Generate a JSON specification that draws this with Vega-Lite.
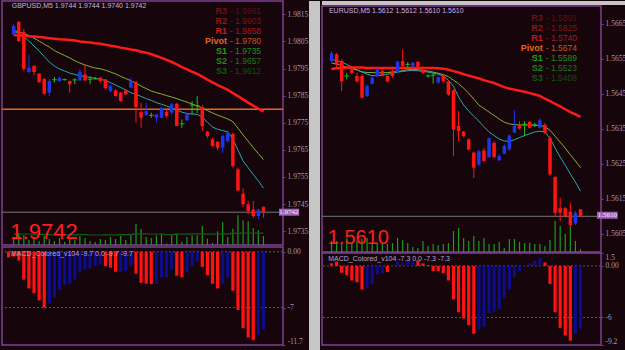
{
"$schema": "https://vega.github.io/schema/vega-lite/v6.json",
"padding": {"left": 0, "top": 0, "right": 0, "bottom": 0},
"background": "#16050b",
"config": {
 "view": {"stroke": "#7e3f95", "strokeWidth": 1.5},
 "axis": {"labelColor": "#a898bc", "labelFont": "Liberation Sans Narrow", "labelFontSize": 7.5, "tickColor": "#7e3f95", "tickSize": 2, "labelPadding": 2, "domain": false, "grid": false},
 "text": {"font": "Liberation Sans"},
 "concat": {"spacing": 0}
},
"datasets": {
 "gbp": [
  {"i":0,"o":1.98076,"h":1.98114,"l":1.98074,"c":1.98107,"m1":1.98074,"m2":1.98090,"m3":1.98086,"v":80,"va":108},
  {"i":1,"o":1.98122,"h":1.98125,"l":1.98048,"c":1.98051,"m1":1.98072,"m2":1.98085,"m3":1.98081,"v":120,"va":108},
  {"i":2,"o":1.98085,"h":1.98096,"l":1.97941,"c":1.97948,"m1":1.98071,"m2":1.98079,"m3":1.98068,"v":100,"va":110},
  {"i":3,"o":1.97937,"h":1.98000,"l":1.97933,"c":1.97953,"m1":1.98069,"m2":1.98072,"m3":1.98051,"v":50,"va":110},
  {"i":4,"o":1.97959,"h":1.97963,"l":1.97926,"c":1.97937,"m1":1.98068,"m2":1.98062,"m3":1.98033,"v":80,"va":106},
  {"i":5,"o":1.97931,"h":1.97933,"l":1.97896,"c":1.97900,"m1":1.98066,"m2":1.98051,"m3":1.98015,"v":40,"va":106},
  {"i":6,"o":1.97911,"h":1.97915,"l":1.97854,"c":1.97857,"m1":1.98064,"m2":1.98040,"m3":1.97994,"v":90,"va":106},
  {"i":7,"o":1.97861,"h":1.97911,"l":1.97848,"c":1.97904,"m1":1.98062,"m2":1.98029,"m3":1.97974,"v":60,"va":104},
  {"i":8,"o":1.97909,"h":1.97919,"l":1.97898,"c":1.97909,"m1":1.98060,"m2":1.98016,"m3":1.97959,"v":40,"va":104},
  {"i":9,"o":1.97904,"h":1.97919,"l":1.97900,"c":1.97916,"m1":1.98058,"m2":1.98007,"m3":1.97948,"v":70,"va":104},
  {"i":10,"o":1.97909,"h":1.97913,"l":1.97906,"c":1.97909,"m1":1.98057,"m2":1.97998,"m3":1.97941,"v":30,"va":102},
  {"i":11,"o":1.97904,"h":1.97906,"l":1.97861,"c":1.97892,"m1":1.98055,"m2":1.97989,"m3":1.97933,"v":60,"va":102},
  {"i":12,"o":1.97908,"h":1.97914,"l":1.97892,"c":1.97908,"m1":1.98053,"m2":1.97979,"m3":1.97928,"v":50,"va":102},
  {"i":13,"o":1.97906,"h":1.97947,"l":1.97904,"c":1.97938,"m1":1.98050,"m2":1.97970,"m3":1.97924,"v":90,"va":104},
  {"i":14,"o":1.97928,"h":1.97967,"l":1.97904,"c":1.97906,"m1":1.98048,"m2":1.97963,"m3":1.97920,"v":70,"va":104},
  {"i":15,"o":1.97910,"h":1.97922,"l":1.97892,"c":1.97910,"m1":1.98046,"m2":1.97957,"m3":1.97917,"v":40,"va":100},
  {"i":16,"o":1.97912,"h":1.97919,"l":1.97909,"c":1.97912,"m1":1.98043,"m2":1.97952,"m3":1.97914,"v":30,"va":100},
  {"i":17,"o":1.97916,"h":1.97919,"l":1.97898,"c":1.97904,"m1":1.98041,"m2":1.97949,"m3":1.97910,"v":60,"va":100},
  {"i":18,"o":1.97910,"h":1.97911,"l":1.97873,"c":1.97877,"m1":1.98038,"m2":1.97944,"m3":1.97906,"v":50,"va":102},
  {"i":19,"o":1.97867,"h":1.97892,"l":1.97861,"c":1.97885,"m1":1.98034,"m2":1.97937,"m3":1.97898,"v":80,"va":102},
  {"i":20,"o":1.97869,"h":1.97873,"l":1.97847,"c":1.97848,"m1":1.98031,"m2":1.97930,"m3":1.97889,"v":60,"va":102},
  {"i":21,"o":1.97861,"h":1.97863,"l":1.97826,"c":1.97830,"m1":1.98027,"m2":1.97921,"m3":1.97880,"v":90,"va":104},
  {"i":22,"o":1.97869,"h":1.97872,"l":1.97852,"c":1.97855,"m1":1.98024,"m2":1.97913,"m3":1.97871,"v":50,"va":104},
  {"i":23,"o":1.97879,"h":1.97916,"l":1.97877,"c":1.97904,"m1":1.98020,"m2":1.97905,"m3":1.97861,"v":100,"va":106},
  {"i":24,"o":1.97900,"h":1.97904,"l":1.97750,"c":1.97808,"m1":1.98017,"m2":1.97896,"m3":1.97854,"v":210,"va":112},
  {"i":25,"o":1.97789,"h":1.97824,"l":1.97731,"c":1.97768,"m1":1.98012,"m2":1.97885,"m3":1.97847,"v":160,"va":112},
  {"i":26,"o":1.97778,"h":1.97824,"l":1.97775,"c":1.97793,"m1":1.98008,"m2":1.97876,"m3":1.97839,"v":80,"va":112},
  {"i":27,"o":1.97777,"h":1.97787,"l":1.97768,"c":1.97777,"m1":1.98003,"m2":1.97867,"m3":1.97832,"v":70,"va":110},
  {"i":28,"o":1.97768,"h":1.97781,"l":1.97750,"c":1.97781,"m1":1.97996,"m2":1.97861,"m3":1.97824,"v":97,"va":110},
  {"i":29,"o":1.97768,"h":1.97808,"l":1.97767,"c":1.97805,"m1":1.97989,"m2":1.97856,"m3":1.97818,"v":113,"va":110},
  {"i":30,"o":1.97790,"h":1.97799,"l":1.97768,"c":1.97775,"m1":1.97982,"m2":1.97850,"m3":1.97812,"v":13,"va":104},
  {"i":31,"o":1.97787,"h":1.97824,"l":1.97781,"c":1.97818,"m1":1.97974,"m2":1.97845,"m3":1.97804,"v":97,"va":104},
  {"i":32,"o":1.97820,"h":1.97823,"l":1.97738,"c":1.97738,"m1":1.97965,"m2":1.97839,"m3":1.97797,"v":113,"va":108},
  {"i":33,"o":1.97746,"h":1.97762,"l":1.97731,"c":1.97746,"m1":1.97955,"m2":1.97832,"m3":1.97789,"v":30,"va":108},
  {"i":34,"o":1.97759,"h":1.97787,"l":1.97756,"c":1.97781,"m1":1.97947,"m2":1.97826,"m3":1.97784,"v":80,"va":108},
  {"i":35,"o":1.97815,"h":1.97830,"l":1.97782,"c":1.97815,"m1":1.97938,"m2":1.97819,"m3":1.97782,"v":97,"va":112},
  {"i":36,"o":1.97813,"h":1.97848,"l":1.97786,"c":1.97813,"m1":1.97930,"m2":1.97812,"m3":1.97781,"v":97,"va":112},
  {"i":37,"o":1.97808,"h":1.97815,"l":1.97719,"c":1.97738,"m1":1.97920,"m2":1.97804,"m3":1.97771,"v":190,"va":112},
  {"i":38,"o":1.97717,"h":1.97719,"l":1.97694,"c":1.97701,"m1":1.97909,"m2":1.97795,"m3":1.97752,"v":63,"va":108},
  {"i":39,"o":1.97689,"h":1.97694,"l":1.97662,"c":1.97664,"m1":1.97899,"m2":1.97786,"m3":1.97734,"v":20,"va":108},
  {"i":40,"o":1.97680,"h":1.97682,"l":1.97649,"c":1.97658,"m1":1.97889,"m2":1.97778,"m3":1.97726,"v":137,"va":112},
  {"i":41,"o":1.97658,"h":1.97707,"l":1.97639,"c":1.97701,"m1":1.97880,"m2":1.97771,"m3":1.97721,"v":230,"va":112},
  {"i":42,"o":1.97682,"h":1.97722,"l":1.97676,"c":1.97713,"m1":1.97871,"m2":1.97764,"m3":1.97716,"v":80,"va":112},
  {"i":43,"o":1.97709,"h":1.97713,"l":1.97584,"c":1.97590,"m1":1.97859,"m2":1.97754,"m3":1.97690,"v":163,"va":116},
  {"i":44,"o":1.97578,"h":1.97584,"l":1.97498,"c":1.97500,"m1":1.97848,"m2":1.97730,"m3":1.97649,"v":297,"va":116},
  {"i":45,"o":1.97488,"h":1.97508,"l":1.97439,"c":1.97449,"m1":1.97836,"m2":1.97705,"m3":1.97609,"v":247,"va":120},
  {"i":46,"o":1.97449,"h":1.97461,"l":1.97412,"c":1.97424,"m1":1.97824,"m2":1.97682,"m3":1.97584,"v":237,"va":120},
  {"i":47,"o":1.97430,"h":1.97461,"l":1.97399,"c":1.97406,"m1":1.97813,"m2":1.97658,"m3":1.97559,"v":170,"va":120},
  {"i":48,"o":1.97406,"h":1.97431,"l":1.97393,"c":1.97430,"m1":1.97802,"m2":1.97636,"m3":1.97535,"v":147,"va":118},
  {"i":49,"o":1.9744,"h":1.9744,"l":1.9740,"c":1.9742,"m1":1.97791,"m2":1.97614,"m3":1.97509,"v":90,"va":118}
 ],
 "gbpMacd": [
  {"i":-1,"v":-0.7,"d":"dn"},{"i":0,"v":-0.6,"d":"dn"},{"i":1,"v":-1.1,"d":"dn"},{"i":2,"v":-3.5,"d":"dn"},{"i":3,"v":-4.6,"d":"dn"},{"i":4,"v":-5.2,"d":"dn"},{"i":5,"v":-6.1,"d":"dn"},{"i":6,"v":-7.0,"d":"dn"},{"i":7,"v":-6.5,"d":"up"},{"i":8,"v":-5.75,"d":"up"},{"i":9,"v":-4.8,"d":"up"},{"i":10,"v":-4.2,"d":"up"},{"i":11,"v":-4.0,"d":"up"},{"i":12,"v":-3.5,"d":"up"},{"i":13,"v":-2.6,"d":"up"},{"i":14,"v":-2.2,"d":"up"},{"i":15,"v":-2.1,"d":"up"},{"i":16,"v":-1.8,"d":"up"},{"i":17,"v":-1.6,"d":"up"},{"i":18,"v":-1.8,"d":"dn"},{"i":19,"v":-2.0,"d":"dn"},{"i":20,"v":-2.5,"d":"dn"},{"i":21,"v":-2.5,"d":"up"},{"i":22,"v":-2.4,"d":"up"},{"i":23,"v":-1.8,"d":"up"},{"i":24,"v":-2.75,"d":"dn"},{"i":25,"v":-3.9,"d":"dn"},{"i":26,"v":-4.0,"d":"dn"},{"i":27,"v":-4.05,"d":"dn"},{"i":28,"v":-4.0,"d":"up"},{"i":29,"v":-3.25,"d":"up"},{"i":30,"v":-3.2,"d":"up"},{"i":31,"v":-2.2,"d":"up"},{"i":32,"v":-3.0,"d":"dn"},{"i":33,"v":-3.2,"d":"dn"},{"i":34,"v":-2.6,"d":"up"},{"i":35,"v":-1.8,"d":"up"},{"i":36,"v":-1.25,"d":"up"},{"i":37,"v":-1.9,"d":"dn"},{"i":38,"v":-2.95,"d":"dn"},{"i":39,"v":-4.0,"d":"dn"},{"i":40,"v":-4.6,"d":"dn"},{"i":41,"v":-4.0,"d":"up"},{"i":42,"v":-3.25,"d":"up"},{"i":43,"v":-4.9,"d":"dn"},{"i":44,"v":-7.3,"d":"dn"},{"i":45,"v":-9.6,"d":"dn"},{"i":46,"v":-10.75,"d":"dn"},{"i":47,"v":-11.1,"d":"dn"},{"i":48,"v":-10.4,"d":"up"},{"i":49,"v":-9.8,"d":"up"}
 ],
 "gbpLvl": [
  {"row":1,"name":"R3","val":"1.9981"},{"row":2,"name":"R2","val":"1.9903"},{"row":3,"name":"R1","val":"1.9858"},{"row":4,"name":"Pivot","val":"1.9780"},{"row":5,"name":"S1","val":"1.9735"},{"row":6,"name":"S2","val":"1.9657"},{"row":7,"name":"S3","val":"1.9612"}
 ],
 "eur": [
  {"i":0,"o":1.56544,"h":1.56572,"l":1.56538,"c":1.56566,"m1":1.56521,"m2":1.56538,"m3":1.56548,"v":110},
  {"i":1,"o":1.56563,"h":1.56567,"l":1.56524,"c":1.56534,"m1":1.56523,"m2":1.56535,"m3":1.56545,"v":110},
  {"i":2,"o":1.56544,"h":1.56549,"l":1.56458,"c":1.56486,"m1":1.56524,"m2":1.56531,"m3":1.56541,"v":80},
  {"i":3,"o":1.56501,"h":1.56510,"l":1.56491,"c":1.56501,"m1":1.56525,"m2":1.56526,"m3":1.56534,"v":140},
  {"i":4,"o":1.56520,"h":1.56524,"l":1.56506,"c":1.56510,"m1":1.56525,"m2":1.56522,"m3":1.56526,"v":90},
  {"i":5,"o":1.56501,"h":1.56510,"l":1.56482,"c":1.56486,"m1":1.56525,"m2":1.56518,"m3":1.56519,"v":110},
  {"i":6,"o":1.56501,"h":1.56506,"l":1.56437,"c":1.56439,"m1":1.56525,"m2":1.56513,"m3":1.56512,"v":130},
  {"i":7,"o":1.56444,"h":1.56477,"l":1.56441,"c":1.56472,"m1":1.56524,"m2":1.56511,"m3":1.56506,"v":140},
  {"i":8,"o":1.56479,"h":1.56501,"l":1.56477,"c":1.56496,"m1":1.56524,"m2":1.56511,"m3":1.56502,"v":80},
  {"i":9,"o":1.56501,"h":1.56524,"l":1.56496,"c":1.56520,"m1":1.56524,"m2":1.56510,"m3":1.56502,"v":90},
  {"i":10,"o":1.56515,"h":1.56520,"l":1.56501,"c":1.56503,"m1":1.56524,"m2":1.56510,"m3":1.56503,"v":80},
  {"i":11,"o":1.56501,"h":1.56503,"l":1.56482,"c":1.56486,"m1":1.56524,"m2":1.56511,"m3":1.56506,"v":80},
  {"i":12,"o":1.56515,"h":1.56520,"l":1.56496,"c":1.56501,"m1":1.56524,"m2":1.56512,"m3":1.56509,"v":90},
  {"i":13,"o":1.56513,"h":1.56545,"l":1.56510,"c":1.56542,"m1":1.56524,"m2":1.56514,"m3":1.56512,"v":140},
  {"i":14,"o":1.56544,"h":1.56577,"l":1.56524,"c":1.56529,"m1":1.56524,"m2":1.56516,"m3":1.56514,"v":120},
  {"i":15,"o":1.56534,"h":1.56541,"l":1.56524,"c":1.56534,"m1":1.56524,"m2":1.56519,"m3":1.56516,"v":90},
  {"i":16,"o":1.56529,"h":1.56541,"l":1.56527,"c":1.56539,"m1":1.56524,"m2":1.56520,"m3":1.56517,"v":50},
  {"i":17,"o":1.56541,"h":1.56544,"l":1.56524,"c":1.56527,"m1":1.56524,"m2":1.56519,"m3":1.56516,"v":40},
  {"i":18,"o":1.56520,"h":1.56529,"l":1.56506,"c":1.56510,"m1":1.56524,"m2":1.56517,"m3":1.56514,"v":110},
  {"i":19,"o":1.56501,"h":1.56506,"l":1.56496,"c":1.56501,"m1":1.56524,"m2":1.56515,"m3":1.56512,"v":60},
  {"i":20,"o":1.56503,"h":1.56509,"l":1.56479,"c":1.56503,"m1":1.56524,"m2":1.56512,"m3":1.56509,"v":80},
  {"i":21,"o":1.56482,"h":1.56501,"l":1.56479,"c":1.56498,"m1":1.56523,"m2":1.56509,"m3":1.56506,"v":70},
  {"i":22,"o":1.56503,"h":1.56507,"l":1.56482,"c":1.56486,"m1":1.56522,"m2":1.56505,"m3":1.56501,"v":80},
  {"i":23,"o":1.56486,"h":1.56489,"l":1.56444,"c":1.56448,"m1":1.56519,"m2":1.56499,"m3":1.56489,"v":90},
  {"i":24,"o":1.56460,"h":1.56463,"l":1.56272,"c":1.56348,"m1":1.56515,"m2":1.56489,"m3":1.56472,"v":210},
  {"i":25,"o":1.56358,"h":1.56401,"l":1.56315,"c":1.56344,"m1":1.56511,"m2":1.56479,"m3":1.56441,"v":240},
  {"i":26,"o":1.56342,"h":1.56344,"l":1.56326,"c":1.56329,"m1":1.56506,"m2":1.56466,"m3":1.56418,"v":140},
  {"i":27,"o":1.56320,"h":1.56323,"l":1.56288,"c":1.56291,"m1":1.56502,"m2":1.56452,"m3":1.56401,"v":110},
  {"i":28,"o":1.56282,"h":1.56285,"l":1.56210,"c":1.56239,"m1":1.56498,"m2":1.56435,"m3":1.56386,"v":160},
  {"i":29,"o":1.56248,"h":1.56291,"l":1.56243,"c":1.56286,"m1":1.56494,"m2":1.56418,"m3":1.56372,"v":110},
  {"i":30,"o":1.56288,"h":1.56296,"l":1.56256,"c":1.56258,"m1":1.56489,"m2":1.56408,"m3":1.56356,"v":140},
  {"i":31,"o":1.56269,"h":1.56326,"l":1.56267,"c":1.56323,"m1":1.56485,"m2":1.56398,"m3":1.56341,"v":80},
  {"i":32,"o":1.56310,"h":1.56315,"l":1.56267,"c":1.56269,"m1":1.56481,"m2":1.56388,"m3":1.56331,"v":80},
  {"i":33,"o":1.56260,"h":1.56277,"l":1.56258,"c":1.56272,"m1":1.56475,"m2":1.56378,"m3":1.56321,"v":100},
  {"i":34,"o":1.56279,"h":1.56306,"l":1.56277,"c":1.56301,"m1":1.56469,"m2":1.56369,"m3":1.56315,"v":40},
  {"i":35,"o":1.56291,"h":1.56334,"l":1.56288,"c":1.56331,"m1":1.56465,"m2":1.56364,"m3":1.56315,"v":130},
  {"i":36,"o":1.56339,"h":1.56403,"l":1.56339,"c":1.56358,"m1":1.56462,"m2":1.56362,"m3":1.56319,"v":130},
  {"i":37,"o":1.56361,"h":1.56372,"l":1.56348,"c":1.56351,"m1":1.56459,"m2":1.56361,"m3":1.56325,"v":100},
  {"i":38,"o":1.56363,"h":1.56372,"l":1.56329,"c":1.56363,"m1":1.56456,"m2":1.56361,"m3":1.56331,"v":90},
  {"i":39,"o":1.56370,"h":1.56372,"l":1.56351,"c":1.56353,"m1":1.56452,"m2":1.56361,"m3":1.56336,"v":90},
  {"i":40,"o":1.56361,"h":1.56367,"l":1.56355,"c":1.56361,"m1":1.56448,"m2":1.56360,"m3":1.56341,"v":80},
  {"i":41,"o":1.56353,"h":1.56380,"l":1.56351,"c":1.56374,"m1":1.56444,"m2":1.56360,"m3":1.56343,"v":80},
  {"i":42,"o":1.56361,"h":1.56367,"l":1.56334,"c":1.56339,"m1":1.56436,"m2":1.56356,"m3":1.56341,"v":60},
  {"i":43,"o":1.56324,"h":1.56329,"l":1.56215,"c":1.56220,"m1":1.56429,"m2":1.56346,"m3":1.56323,"v":120},
  {"i":44,"o":1.56212,"h":1.56215,"l":1.56101,"c":1.56110,"m1":1.56421,"m2":1.56329,"m3":1.56295,"v":310},
  {"i":45,"o":1.56123,"h":1.56153,"l":1.56086,"c":1.56110,"m1":1.56414,"m2":1.56312,"m3":1.56269,"v":260},
  {"i":46,"o":1.56123,"h":1.56126,"l":1.56096,"c":1.56101,"m1":1.56406,"m2":1.56295,"m3":1.56246,"v":180},
  {"i":47,"o":1.56113,"h":1.56139,"l":1.56069,"c":1.56075,"m1":1.56398,"m2":1.56276,"m3":1.56221,"v":280},
  {"i":48,"o":1.56079,"h":1.56115,"l":1.56075,"c":1.56110,"m1":1.56391,"m2":1.56258,"m3":1.56198,"v":110},
  {"i":49,"o":1.5612,"h":1.5612,"l":1.5610,"c":1.5610,"m1":1.56384,"m2":1.56239,"m3":1.56172,"v":30}
 ],
 "eurMacd": [
  {"i":0,"v":0.3,"d":"dn"},{"i":1,"v":0.5,"d":"dn"},{"i":2,"v":-0.8,"d":"dn"},{"i":3,"v":-1.1,"d":"dn"},{"i":4,"v":-1.7,"d":"dn"},{"i":5,"v":-1.9,"d":"dn"},{"i":6,"v":-2.75,"d":"dn"},{"i":7,"v":-2.6,"d":"up"},{"i":8,"v":-2.1,"d":"up"},{"i":9,"v":-1.0,"d":"up"},{"i":10,"v":-0.85,"d":"up"},{"i":11,"v":-0.7,"d":"dn"},{"i":12,"v":0.1,"d":"up"},{"i":13,"v":0.5,"d":"up"},{"i":14,"v":0.4,"d":"up"},{"i":15,"v":0.5,"d":"up"},{"i":16,"v":0.5,"d":"up"},{"i":17,"v":0.6,"d":"dn"},{"i":18,"v":0.3,"d":"dn"},{"i":19,"v":0.1,"d":"dn"},{"i":20,"v":-0.6,"d":"dn"},{"i":21,"v":-0.6,"d":"dn"},{"i":22,"v":-0.85,"d":"dn"},{"i":23,"v":-1.7,"d":"dn"},{"i":24,"v":-3.9,"d":"dn"},{"i":25,"v":-5.4,"d":"dn"},{"i":26,"v":-6.1,"d":"dn"},{"i":27,"v":-6.9,"d":"dn"},{"i":28,"v":-7.9,"d":"dn"},{"i":29,"v":-7.4,"d":"up"},{"i":30,"v":-7.1,"d":"up"},{"i":31,"v":-5.5,"d":"up"},{"i":32,"v":-5.3,"d":"up"},{"i":33,"v":-5.0,"d":"up"},{"i":34,"v":-3.7,"d":"up"},{"i":35,"v":-2.75,"d":"up"},{"i":36,"v":-1.3,"d":"up"},{"i":37,"v":-0.6,"d":"up"},{"i":38,"v":0.1,"d":"up"},{"i":39,"v":0.3,"d":"up"},{"i":40,"v":0.6,"d":"up"},{"i":41,"v":0.9,"d":"up"},{"i":42,"v":0.4,"d":"dn"},{"i":43,"v":-2.1,"d":"dn"},{"i":44,"v":-5.4,"d":"dn"},{"i":45,"v":-7.2,"d":"dn"},{"i":46,"v":-8.1,"d":"dn"},{"i":47,"v":-8.7,"d":"dn"},{"i":48,"v":-7.9,"d":"up"},{"i":49,"v":-7.3,"d":"up"}
 ],
 "eurLvl": [
  {"row":1,"name":"R3","val":"1.5891"},{"row":2,"name":"R2","val":"1.5825"},{"row":3,"name":"R1","val":"1.5740"},{"row":4,"name":"Pivot","val":"1.5674"},{"row":5,"name":"S1","val":"1.5589"},{"row":6,"name":"S2","val":"1.5523"},{"row":7,"name":"S3","val":"1.5408"}
 ]
},
"hconcat": [
 {"vconcat": [
  {"width": 281, "height": 244,
   "layer": [
    {"data": {"name": "gbp"}, "mark": {"type": "bar", "width": 1.2, "color": "#1e9a1e"},
     "encoding": {"x": {"field": "i", "type": "quantitative", "scale": {"domain": [-1.3, 51.85], "nice": false, "zero": false}, "axis": null},
                  "y": {"field": "v", "type": "quantitative", "scale": {"domain": [0, 2440]}, "axis": null}}},
    {"data": {"name": "gbp"}, "mark": {"type": "line", "interpolate": "step", "color": "#0f5c16", "strokeWidth": 1.2},
     "encoding": {"x": {"field": "i", "type": "quantitative", "scale": {"domain": [-1.3, 51.85], "nice": false, "zero": false}, "axis": null},
                  "y": {"field": "va", "type": "quantitative", "scale": {"domain": [0, 2440]}, "axis": null}}},
    {"data": {"values": [{}]}, "mark": {"type": "rule", "color": "#e8661a", "strokeWidth": 1.5},
     "encoding": {"y": {"datum": 1.978, "type": "quantitative", "scale": {"domain": [1.97299, 1.98199], "zero": false, "nice": false}, "axis": null}}},
    {"data": {"values": [{}]}, "mark": {"type": "rule", "color": "#787878", "strokeWidth": 1},
     "encoding": {"y": {"datum": 1.9742, "type": "quantitative", "scale": {"domain": [1.97299, 1.98199], "zero": false, "nice": false}, "axis": null}}},
    {"data": {"name": "gbp"}, "mark": {"type": "line", "color": "#7fb52a", "strokeWidth": 1},
     "encoding": {"x": {"field": "i", "type": "quantitative", "scale": {"domain": [-1.3, 51.85], "nice": false, "zero": false}, "axis": null},
                  "y": {"field": "m2", "type": "quantitative", "scale": {"domain": [1.97299, 1.98199], "zero": false, "nice": false}, "axis": null}}},
    {"data": {"name": "gbp"}, "mark": {"type": "line", "color": "#2aa8a8", "strokeWidth": 1},
     "encoding": {"x": {"field": "i", "type": "quantitative", "scale": {"domain": [-1.3, 51.85], "nice": false, "zero": false}, "axis": null},
                  "y": {"field": "m3", "type": "quantitative", "scale": {"domain": [1.97299, 1.98199], "zero": false, "nice": false}, "axis": null}}},
    {"data": {"name": "gbp"}, "mark": {"type": "line", "color": "#ff1a1a", "strokeWidth": 2.5},
     "encoding": {"x": {"field": "i", "type": "quantitative", "scale": {"domain": [-1.3, 51.85], "nice": false, "zero": false}, "axis": null},
                  "y": {"field": "m1", "type": "quantitative", "scale": {"domain": [1.97299, 1.98199], "zero": false, "nice": false}, "axis": null}}},
    {"data": {"name": "gbp"}, "mark": {"type": "rule", "strokeWidth": 1},
     "encoding": {"x": {"field": "i", "type": "quantitative", "scale": {"domain": [-1.3, 51.85], "nice": false, "zero": false}, "axis": null},
                  "y": {"field": "l", "type": "quantitative", "scale": {"domain": [1.97299, 1.98199], "zero": false, "nice": false},
                        "axis": {"orient": "right", "values": [1.9735, 1.9745, 1.9755, 1.9765, 1.9775, 1.9785, 1.9795, 1.9805, 1.9815], "format": ".4f", "minExtent": 24, "maxExtent": 24, "title": null}},
                  "y2": {"field": "h"},
                  "color": {"condition": [{"test": "datum.c > datum.o", "value": "#1f35e8"}, {"test": "datum.c < datum.o", "value": "#ff1414"}], "value": "#22c022"}}},
    {"data": {"name": "gbp"}, "mark": {"type": "bar", "width": 3.5},
     "encoding": {"x": {"field": "i", "type": "quantitative", "scale": {"domain": [-1.3, 51.85], "nice": false, "zero": false}, "axis": null},
                  "y": {"field": "o", "type": "quantitative", "scale": {"domain": [1.97299, 1.98199], "zero": false, "nice": false}, "axis": null},
                  "y2": {"field": "c"},
                  "color": {"condition": [{"test": "datum.c > datum.o", "value": "#1f35e8"}, {"test": "datum.c < datum.o", "value": "#ff1414"}], "value": "#22c022"}}},
    {"data": {"name": "gbp"}, "transform": [{"filter": "datum.o == datum.c"}], "mark": {"type": "tick", "orient": "horizontal", "size": 5, "thickness": 1.2, "color": "#22c022"},
     "encoding": {"x": {"field": "i", "type": "quantitative", "scale": {"domain": [-1.3, 51.85], "nice": false, "zero": false}, "axis": null},
                  "y": {"field": "o", "type": "quantitative", "scale": {"domain": [1.97299, 1.98199], "zero": false, "nice": false}, "axis": null}}},
    {"data": {"name": "gbpLvl"}, "mark": {"type": "text", "align": "right", "baseline": "middle", "fontSize": 9, "fontWeight": "bold"},
     "encoding": {"x": {"datum": 41.83, "type": "quantitative", "scale": {"domain": [-1.3, 51.85], "nice": false, "zero": false}, "axis": null},
                  "y": {"field": "row", "type": "quantitative", "scale": {"domain": [0, 24.4], "reverse": true, "nice": false, "zero": false}, "axis": null},
                  "text": {"field": "name"},
                  "color": {"field": "name", "type": "nominal", "scale": {"domain": ["R3", "R2", "R1", "Pivot", "S1", "S2", "S3"], "range": ["#6e1414", "#8c1818", "#c41c1c", "#e8641c", "#1ca01c", "#1a8a1a", "#0f5c0f"]}, "legend": null}}},
    {"data": {"name": "gbpLvl"}, "transform": [{"calculate": "'- ' + datum.val", "as": "t"}], "mark": {"type": "text", "align": "left", "baseline": "middle", "fontSize": 8.5, "dx": 3},
     "encoding": {"x": {"datum": 41.83, "type": "quantitative", "scale": {"domain": [-1.3, 51.85], "nice": false, "zero": false}, "axis": null},
                  "y": {"field": "row", "type": "quantitative", "scale": {"domain": [0, 24.4], "reverse": true, "nice": false, "zero": false}, "axis": null},
                  "text": {"field": "t"},
                  "color": {"field": "name", "type": "nominal", "scale": {"domain": ["R3", "R2", "R1", "Pivot", "S1", "S2", "S3"], "range": ["#5c1212", "#7a1616", "#a81a1a", "#c8561a", "#199019", "#167816", "#0e500e"]}, "legend": null}}},
    {"data": {"values": [{}]}, "mark": {"type": "text", "text": "GBPUSD,M5  1.9744 1.9744 1.9740 1.9742", "align": "left", "baseline": "middle", "fontSize": 7, "color": "#c8b4e0"},
     "encoding": {"x": {"datum": -0.38, "type": "quantitative", "scale": {"domain": [-1.3, 51.85], "nice": false, "zero": false}, "axis": null},
                  "y": {"datum": 1.98182, "type": "quantitative", "scale": {"domain": [1.97299, 1.98199], "zero": false, "nice": false}, "axis": null}}},
    {"data": {"values": [{}]}, "mark": {"type": "text", "text": "1.9742", "align": "left", "baseline": "alphabetic", "fontSize": 22, "color": "#ff1e1e"},
     "encoding": {"x": {"datum": -0.64, "type": "quantitative", "scale": {"domain": [-1.3, 51.85], "nice": false, "zero": false}, "axis": null},
                  "y": {"datum": 1.9732, "type": "quantitative", "scale": {"domain": [1.97299, 1.98199], "zero": false, "nice": false}, "axis": null}}},
    {"data": {"values": [{}]}, "mark": {"type": "rect", "color": "#9c62b8"},
     "encoding": {"x": {"datum": 52.04, "type": "quantitative", "scale": {"domain": [-1.3, 51.85], "nice": false, "zero": false}, "axis": null},
                  "x2": {"datum": 56.0},
                  "y": {"datum": 1.97433, "type": "quantitative", "scale": {"domain": [1.97299, 1.98199], "zero": false, "nice": false}, "axis": null},
                  "y2": {"datum": 1.97407}}},
    {"data": {"values": [{}]}, "mark": {"type": "text", "text": "1.9742", "align": "center", "baseline": "middle", "fontSize": 7, "font": "Liberation Sans Narrow", "color": "#f4ecff"},
     "encoding": {"x": {"datum": 54.0, "type": "quantitative", "scale": {"domain": [-1.3, 51.85], "nice": false, "zero": false}, "axis": null},
                  "y": {"datum": 1.9742, "type": "quantitative", "scale": {"domain": [1.97299, 1.98199], "zero": false, "nice": false}, "axis": null}}}
   ],
   "resolve": {"scale": {"y": "independent", "color": "independent"}}
  },
  {"width": 281, "height": 98,
   "layer": [
    {"data": {"values": [{"y": 0}, {"y": -7}]}, "mark": {"type": "rule", "color": "#5a5a5a", "strokeDash": [2, 2], "strokeWidth": 1},
     "encoding": {"y": {"field": "y", "type": "quantitative", "scale": {"domain": [-11.7, 0.6], "nice": false, "zero": false}, "axis": null}}},
    {"data": {"name": "gbpMacd"}, "mark": {"type": "bar", "width": 3.2},
     "encoding": {"x": {"field": "i", "type": "quantitative", "scale": {"domain": [-1.3, 51.85], "nice": false, "zero": false}, "axis": null},
                  "y": {"field": "v", "type": "quantitative", "scale": {"domain": [-11.7, 0.6], "nice": false, "zero": false},
                        "axis": {"orient": "right", "values": [0, -7, -11.7], "labelExpr": "datum.value == 0 ? '0.00' : toString(datum.value)", "labelFlush": true, "minExtent": 24, "maxExtent": 24, "title": null}},
                  "y2": {"datum": 0},
                  "color": {"condition": {"test": "datum.d == 'dn'", "value": "#ff1212"}, "value": "#0d0d8c"}}},
    {"data": {"values": [{}]}, "mark": {"type": "text", "text": "MACD_Colored_v104 -9.7 0.0 -9.7 -9.7", "align": "left", "baseline": "middle", "fontSize": 7, "color": "#b8a4d0"},
     "encoding": {"x": {"datum": -0.51, "type": "quantitative", "scale": {"domain": [-1.3, 51.85], "nice": false, "zero": false}, "axis": null},
                  "y": {"datum": -0.24, "type": "quantitative", "scale": {"domain": [-11.7, 0.6], "nice": false, "zero": false}, "axis": null}}}
   ],
   "resolve": {"scale": {"y": "independent"}}
  }
 ], "spacing": 2, "bounds": "flush"},
 {"width": 11, "height": 350, "data": {"values": [{}]}, "mark": {"type": "text", "text": "", "fontSize": 1}, "view": {"fill": "#c6c6c6", "stroke": null}},
 {"vconcat": [
  {"width": 303, "height": 4, "data": {"values": [{}]}, "mark": {"type": "text", "text": "", "fontSize": 1}, "view": {"fill": "#c6c6c6", "stroke": null}},
  {"width": 279, "height": 246,
   "layer": [
    {"data": {"name": "eur"}, "mark": {"type": "bar", "width": 1.2, "color": "#1e9a1e"},
     "encoding": {"x": {"field": "i", "type": "quantitative", "scale": {"domain": [-0.89, 52.05], "nice": false, "zero": false}, "axis": null},
                  "y": {"field": "v", "type": "quantitative", "scale": {"domain": [0, 2460]}, "axis": null}}},
    {"data": {"values": [{}]}, "mark": {"type": "rule", "color": "#787878", "strokeWidth": 1},
     "encoding": {"y": {"datum": 1.561, "type": "quantitative", "scale": {"domain": [1.55998, 1.56701], "zero": false, "nice": false}, "axis": null}}},
    {"data": {"name": "eur"}, "mark": {"type": "line", "color": "#7fb52a", "strokeWidth": 1},
     "encoding": {"x": {"field": "i", "type": "quantitative", "scale": {"domain": [-0.89, 52.05], "nice": false, "zero": false}, "axis": null},
                  "y": {"field": "m2", "type": "quantitative", "scale": {"domain": [1.55998, 1.56701], "zero": false, "nice": false}, "axis": null}}},
    {"data": {"name": "eur"}, "mark": {"type": "line", "color": "#2aa8a8", "strokeWidth": 1},
     "encoding": {"x": {"field": "i", "type": "quantitative", "scale": {"domain": [-0.89, 52.05], "nice": false, "zero": false}, "axis": null},
                  "y": {"field": "m3", "type": "quantitative", "scale": {"domain": [1.55998, 1.56701], "zero": false, "nice": false}, "axis": null}}},
    {"data": {"name": "eur"}, "mark": {"type": "line", "color": "#ff1a1a", "strokeWidth": 2.5},
     "encoding": {"x": {"field": "i", "type": "quantitative", "scale": {"domain": [-0.89, 52.05], "nice": false, "zero": false}, "axis": null},
                  "y": {"field": "m1", "type": "quantitative", "scale": {"domain": [1.55998, 1.56701], "zero": false, "nice": false}, "axis": null}}},
    {"data": {"name": "eur"}, "mark": {"type": "rule", "strokeWidth": 1},
     "encoding": {"x": {"field": "i", "type": "quantitative", "scale": {"domain": [-0.89, 52.05], "nice": false, "zero": false}, "axis": null},
                  "y": {"field": "l", "type": "quantitative", "scale": {"domain": [1.55998, 1.56701], "zero": false, "nice": false},
                        "axis": {"orient": "right", "values": [1.5605, 1.5615, 1.5625, 1.5635, 1.5645, 1.5655, 1.5665], "format": ".4f", "minExtent": 24, "maxExtent": 24, "title": null}},
                  "y2": {"field": "h"},
                  "color": {"condition": [{"test": "datum.c > datum.o", "value": "#1f35e8"}, {"test": "datum.c < datum.o", "value": "#ff1414"}], "value": "#22c022"}}},
    {"data": {"name": "eur"}, "mark": {"type": "bar", "width": 3.5},
     "encoding": {"x": {"field": "i", "type": "quantitative", "scale": {"domain": [-0.89, 52.05], "nice": false, "zero": false}, "axis": null},
                  "y": {"field": "o", "type": "quantitative", "scale": {"domain": [1.55998, 1.56701], "zero": false, "nice": false}, "axis": null},
                  "y2": {"field": "c"},
                  "color": {"condition": [{"test": "datum.c > datum.o", "value": "#1f35e8"}, {"test": "datum.c < datum.o", "value": "#ff1414"}], "value": "#22c022"}}},
    {"data": {"name": "eur"}, "transform": [{"filter": "datum.o == datum.c"}], "mark": {"type": "tick", "orient": "horizontal", "size": 5, "thickness": 1.2, "color": "#22c022"},
     "encoding": {"x": {"field": "i", "type": "quantitative", "scale": {"domain": [-0.89, 52.05], "nice": false, "zero": false}, "axis": null},
                  "y": {"field": "o", "type": "quantitative", "scale": {"domain": [1.55998, 1.56701], "zero": false, "nice": false}, "axis": null}}},
    {"data": {"name": "eurLvl"}, "mark": {"type": "text", "align": "right", "baseline": "middle", "fontSize": 9, "fontWeight": "bold"},
     "encoding": {"x": {"datum": 41.56, "type": "quantitative", "scale": {"domain": [-0.89, 52.05], "nice": false, "zero": false}, "axis": null},
                  "y": {"field": "row", "type": "quantitative", "scale": {"domain": [-0.17, 24.43], "reverse": true, "nice": false, "zero": false}, "axis": null},
                  "text": {"field": "name"},
                  "color": {"field": "name", "type": "nominal", "scale": {"domain": ["R3", "R2", "R1", "Pivot", "S1", "S2", "S3"], "range": ["#6e1414", "#8c1818", "#c41c1c", "#e8641c", "#1ca01c", "#1a8a1a", "#0f5c0f"]}, "legend": null}}},
    {"data": {"name": "eurLvl"}, "transform": [{"calculate": "'- ' + datum.val", "as": "t"}], "mark": {"type": "text", "align": "left", "baseline": "middle", "fontSize": 8.5, "dx": 3},
     "encoding": {"x": {"datum": 41.56, "type": "quantitative", "scale": {"domain": [-0.89, 52.05], "nice": false, "zero": false}, "axis": null},
                  "y": {"field": "row", "type": "quantitative", "scale": {"domain": [-0.17, 24.43], "reverse": true, "nice": false, "zero": false}, "axis": null},
                  "text": {"field": "t"},
                  "color": {"field": "name", "type": "nominal", "scale": {"domain": ["R3", "R2", "R1", "Pivot", "S1", "S2", "S3"], "range": ["#5c1212", "#7a1616", "#a81a1a", "#c8561a", "#199019", "#167816", "#0e500e"]}, "legend": null}}},
    {"data": {"values": [{}]}, "mark": {"type": "text", "text": "EURUSD,M5  1.5612 1.5612 1.5610 1.5610", "align": "left", "baseline": "middle", "fontSize": 7, "color": "#c8b4e0"},
     "encoding": {"x": {"datum": -0.51, "type": "quantitative", "scale": {"domain": [-0.89, 52.05], "nice": false, "zero": false}, "axis": null},
                  "y": {"datum": 1.56687, "type": "quantitative", "scale": {"domain": [1.55998, 1.56701], "zero": false, "nice": false}, "axis": null}}},
    {"data": {"values": [{}]}, "mark": {"type": "text", "text": "1.5610", "align": "left", "baseline": "alphabetic", "fontSize": 20, "color": "#ff1e1e"},
     "encoding": {"x": {"datum": -0.75, "type": "quantitative", "scale": {"domain": [-0.89, 52.05], "nice": false, "zero": false}, "axis": null},
                  "y": {"datum": 1.56021, "type": "quantitative", "scale": {"domain": [1.55998, 1.56701], "zero": false, "nice": false}, "axis": null}}},
    {"data": {"values": [{}]}, "mark": {"type": "rect", "color": "#9c62b8"},
     "encoding": {"x": {"datum": 52.24, "type": "quantitative", "scale": {"domain": [-0.89, 52.05], "nice": false, "zero": false}, "axis": null},
                  "x2": {"datum": 56.3},
                  "y": {"datum": 1.56113, "type": "quantitative", "scale": {"domain": [1.55998, 1.56701], "zero": false, "nice": false}, "axis": null},
                  "y2": {"datum": 1.56093}}},
    {"data": {"values": [{}]}, "mark": {"type": "text", "text": "1.5610", "align": "center", "baseline": "middle", "fontSize": 7, "font": "Liberation Sans Narrow", "color": "#f4ecff"},
     "encoding": {"x": {"datum": 54.27, "type": "quantitative", "scale": {"domain": [-0.89, 52.05], "nice": false, "zero": false}, "axis": null},
                  "y": {"datum": 1.56103, "type": "quantitative", "scale": {"domain": [1.55998, 1.56701], "zero": false, "nice": false}, "axis": null}}}
   ],
   "resolve": {"scale": {"y": "independent", "color": "independent"}}
  },
  {"width": 279, "height": 92,
   "layer": [
    {"data": {"values": [{"y": 0}, {"y": -6}]}, "mark": {"type": "rule", "color": "#5a5a5a", "strokeDash": [2, 2], "strokeWidth": 1},
     "encoding": {"y": {"field": "y", "type": "quantitative", "scale": {"domain": [-9.2, 1.5], "nice": false, "zero": false}, "axis": null}}},
    {"data": {"name": "eurMacd"}, "mark": {"type": "bar", "width": 3.2},
     "encoding": {"x": {"field": "i", "type": "quantitative", "scale": {"domain": [-0.89, 52.05], "nice": false, "zero": false}, "axis": null},
                  "y": {"field": "v", "type": "quantitative", "scale": {"domain": [-9.2, 1.5], "nice": false, "zero": false},
                        "axis": {"orient": "right", "values": [1.5, 0, -6, -9.2], "labelExpr": "datum.value == 0 ? '0.00' : toString(datum.value)", "labelFlush": true, "minExtent": 24, "maxExtent": 24, "title": null}},
                  "y2": {"datum": 0},
                  "color": {"condition": {"test": "datum.d == 'dn'", "value": "#ff1212"}, "value": "#0d0d8c"}}},
    {"data": {"values": [{}]}, "mark": {"type": "text", "text": "MACD_Colored_v104 -7.3 0.0 -7.3 -7.3", "align": "left", "baseline": "middle", "fontSize": 7, "color": "#b8a4d0"},
     "encoding": {"x": {"datum": -0.65, "type": "quantitative", "scale": {"domain": [-0.89, 52.05], "nice": false, "zero": false}, "axis": null},
                  "y": {"datum": 0.76, "type": "quantitative", "scale": {"domain": [-9.2, 1.5], "nice": false, "zero": false}, "axis": null}}}
   ],
   "resolve": {"scale": {"y": "independent"}}
  }
 ], "spacing": 1, "bounds": "flush"}
]
}
